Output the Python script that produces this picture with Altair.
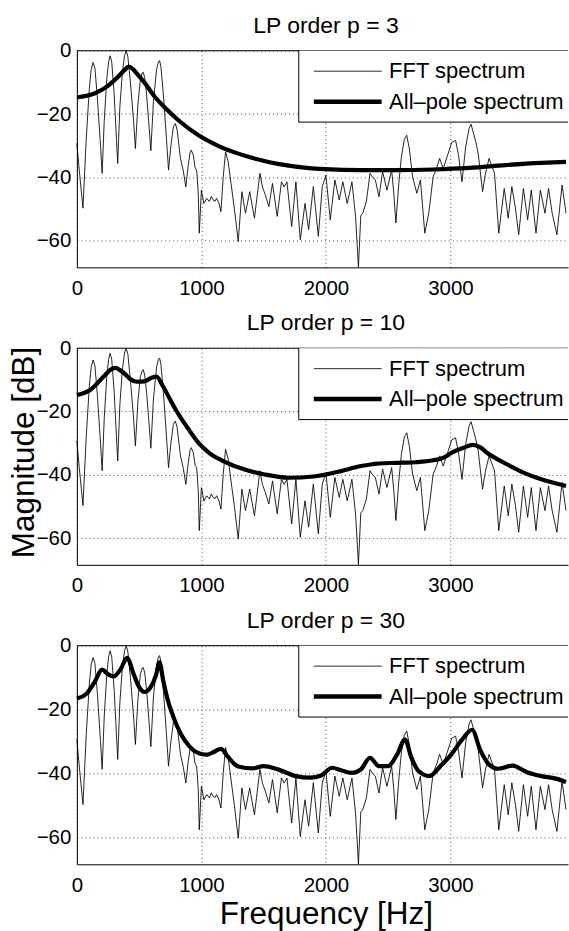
import altair as alt
import pandas as pd

FONT = "Liberation Sans"
ORDERS = [3, 10, 30]
X_TICKS = [0, 1000, 2000, 3000]
Y_TICKS = [0, -20, -40, -60]
X_MAX = 3944
Y_MIN = -68.4
LEGEND_LABELS = ["FFT spectrum", "All\u2013pole spectrum"]
XLABEL = "Frequency [Hz]"
YLABEL = "Magnitude [dB]"

FFT_FREQ = [0, 20, 49, 75, 100, 115, 130, 145, 165, 190, 203, 220, 240, 255, 267, 280, 300, 318, 328,
            345, 365, 383, 397, 410, 430, 455, 470, 490, 510, 525, 533, 545, 560, 580, 594, 615, 640,
            655, 664, 675, 695, 720, 736, 755, 775, 791, 805, 820, 832, 855, 875, 895, 910, 919, 935,
            950, 962, 975, 983, 1000, 1020, 1043, 1064, 1080, 1093, 1110, 1122, 1140, 1157, 1175, 1194,
            1215, 1238, 1265, 1296, 1325, 1354, 1388, 1426, 1470, 1490, 1513, 1542, 1571, 1609, 1643,
            1665, 1687, 1725, 1759, 1794, 1832, 1861, 1899, 1939, 1971, 2000, 2035, 2072, 2107, 2136,
            2171, 2209, 2238, 2261, 2280, 2296, 2325, 2354, 2375, 2397, 2426, 2455, 2490, 2528, 2545,
            2562, 2585, 2606, 2630, 2649, 2670, 2696, 2730, 2759, 2794, 2826, 2861, 2890, 2913, 2942,
            2977, 3010, 3041, 3065, 3093, 3122, 3150, 3165, 3185, 3205, 3223, 3258, 3280, 3310, 3354,
            3388, 3432, 3464, 3493, 3522, 3548, 3586, 3620, 3649, 3687, 3722, 3759, 3788, 3817, 3855,
            3896, 3928]
FFT_DB = [-29.3, -38, -49.7, -28, -12, -6, -3.7, -5.5, -15, -30, -38.7, -22, -9, -3.5, -1.6, -3.5, -14,
          -28, -35.6, -18, -7, -1.5, 0, -2, -10, -22, -30.9, -17, -9, -7, -6.8, -8.5, -14, -24, -31.6,
          -16, -6, -3.5, -3.1, -5, -14, -28, -37.7, -30, -24, -23, -25, -30, -34, -38, -43, -36, -32,
          -31.4, -33, -37, -37.7, -45, -57.6, -44, -48.2, -46.6, -47.6, -46, -47.1, -47.5, -46.6, -48,
          -50.8, -40, -31.9, -35, -41.9, -50, -60.2, -44.5, -51.3, -44.5, -52.9, -38.7, -43, -45.5,
          -49.2, -41.9, -52.3, -41.4, -43, -41.4, -55.5, -41.4, -59.7, -48.2, -56.5, -42.9, -58.6,
          -42.9, -39.3, -53.4, -40.8, -47.1, -41.4, -48.2, -41.4, -52.3, -68.3, -52, -51.3, -47.6,
          -38.7, -40, -40.8, -46.1, -38.2, -44, -37.7, -45, -54.4, -42, -33.5, -28, -26.7, -31, -39.8,
          -45, -40.8, -57.6, -51.3, -39.8, -37, -34, -37.2, -33, -29, -28.3, -33, -41.4, -30.4, -24.5,
          -23.2, -26, -29, -32.5, -44.5, -39, -34, -38.7, -57.6, -43.5, -52.9, -42.9, -49.7, -58.1,
          -43.5, -53.4, -44, -57.6, -44, -51.3, -43.5, -51.3, -58.1, -42.4, -51.3]

AP3_FREQ = [0, 136, 252, 339, 380, 417, 450, 484, 542, 629, 716, 832, 977, 1122, 1267, 1412, 1557,
            1701, 1846, 1991, 2281, 2571, 2861, 3151, 3441, 3730, 3928]
AP3_DB = [-14.7, -13.6, -11, -7.9, -6.2, -5.0, -5.8, -7.3, -10, -14.7, -18.3, -22.5, -26.7, -29.8,
          -32.1, -33.9, -35.3, -36.3, -37, -37.4, -37.7, -37.7, -37.5, -37, -36.1, -35.4, -35.1]

AP10_FREQ = [0, 107, 223, 270, 310, 350, 383, 430, 480, 540, 600, 640, 687, 745, 803, 890, 977, 1064,
             1180, 1354, 1500, 1700, 1900, 2100, 2281, 2426, 2571, 2716, 2861, 2950, 3006, 3100, 3180,
             3240, 3296, 3441, 3586, 3730, 3928]
AP10_DB = [-14.8, -13.2, -8.6, -6.8, -6.2, -7.0, -8.0, -9.8, -10.6, -10.5, -9.3, -9.0, -11.7, -15.9,
           -20, -25.2, -29.9, -33.1, -35.7, -38.4, -39.8, -40.9, -40.5, -39, -37.2, -36.4, -36.2,
           -36, -35.4, -34.5, -33.1, -31.5, -30.5, -31.3, -33.1, -36.4, -39.3, -41.4, -43.5]

AP30_FREQ = [0, 78, 142, 203, 252, 296, 354, 403, 455, 499, 542, 594, 635, 664, 693, 730, 774, 832,
             904, 991, 1049, 1107, 1157, 1209, 1296, 1412, 1499, 1614, 1759, 1875, 1962, 2049, 2122,
             2209, 2281, 2354, 2426, 2499, 2571, 2635, 2687, 2745, 2832, 2919, 3006, 3093, 3174, 3238,
             3310, 3383, 3499, 3615, 3730, 3846, 3928]
AP30_DB = [-16.5, -15, -11.4, -7.5, -9, -9.6, -7.2, -3.8, -8.8, -12.9, -14.5, -12.9, -9.3, -5.2,
           -10.8, -17, -22.2, -27.4, -31.5, -33.8, -34.1, -33.1, -32.3, -34.6, -37.8, -38.4, -37.7,
           -38.7, -40.8, -41.3, -40.6, -38.2, -39, -39.8, -38.7, -35.1, -37.7, -37.7, -34.1, -29.4,
           -35.1, -39.3, -40.8, -37.7, -34.1, -29.4, -26.3, -32.5, -37.2, -38.5, -37.5, -39.6, -40.8,
           -41.6, -42.7]

AP_FREQS = [AP3_FREQ, AP10_FREQ, AP30_FREQ]
AP_DBS = [AP3_DB, AP10_DB, AP30_DB]

W = 492
HEIGHTS = [217, 217, 219]
ONE = pd.DataFrame({"k": [0]})
LABEL_EXPR = "datum.value < 0 ? '\u2212' + format(-datum.value, 'd') : format(datum.value, 'd')"


def panel(idx):
    order = ORDERS[idx]
    h = HEIGHTS[idx]
    fft = pd.DataFrame({"freq": FFT_FREQ, "db": FFT_DB})
    ap = pd.DataFrame({"freq": AP_FREQS[idx], "db": AP_DBS[idx]})

    xkw = dict(values=X_TICKS, format="d", grid=True, gridColor="black", gridDash=[1, 3],
               gridWidth=0.8, gridOpacity=0.85, domainColor="black", domainWidth=1,
               ticks=False, tickSize=0, labelFont=FONT, labelFontSize=20.5, labelColor="black",
               labelPadding=11, labelFlush=False, labelOverlap=False)
    if idx == 2:
        xkw.update(title=XLABEL, titleFont=FONT, titleFontSize=31.5, titleFontWeight="normal",
                   titleColor="black", titleX=249.5, titleY=59, titleAlign="center",
                   titleBaseline="alphabetic")
    else:
        xkw.update(title=None)
    ykw = dict(values=Y_TICKS, labelExpr=LABEL_EXPR, grid=True, gridColor="black", gridDash=[1, 3],
               gridWidth=0.8, gridOpacity=0.85, domainColor="black", domainWidth=1,
               ticks=False, tickSize=0, labelFont=FONT, labelFontSize=20.5, labelColor="black",
               labelPadding=6, labelFlush=False, labelOverlap=False)
    if idx == 1:
        ykw.update(title=YLABEL, titleFont=FONT, titleFontSize=31.5, titleFontWeight="normal",
                   titleColor="black", titleX=-43, titleY=104, titleAngle=270,
                   titleAlign="center", titleBaseline="alphabetic")
    else:
        ykw.update(title=None)

    X = alt.X("freq:Q", scale=alt.Scale(domain=[0, X_MAX], nice=False, zero=False),
              axis=alt.Axis(**xkw))
    Y = alt.Y("db:Q", scale=alt.Scale(domain=[Y_MIN, 0], nice=False, zero=False),
              axis=alt.Axis(**ykw))

    fft_line = alt.Chart(fft).mark_line(color="black", strokeWidth=0.85).encode(x=X, y=Y)
    ap_line = alt.Chart(ap).mark_line(color="black", strokeWidth=4.2, strokeJoin="round",
                                      interpolate="monotone").encode(x=X, y=Y)

    top_border = alt.Chart(ONE).mark_rule(color="black", strokeWidth=1).encode(
        x=alt.value(0), x2=alt.value(W), y=alt.value(0))

    bx, by2 = 222.3, 71.5
    leg_bg = alt.Chart(ONE).mark_rect(fill="white").encode(
        x=alt.value(bx), x2=alt.value(W), y=alt.value(0), y2=alt.value(by2))
    leg_left = alt.Chart(ONE).mark_rule(color="black", strokeWidth=1).encode(
        x=alt.value(bx), y=alt.value(0), y2=alt.value(by2))
    leg_bottom = alt.Chart(ONE).mark_rule(color="black", strokeWidth=1).encode(
        x=alt.value(bx), x2=alt.value(W), y=alt.value(by2))
    leg_thin = alt.Chart(ONE).mark_rule(color="black", strokeWidth=0.85).encode(
        x=alt.value(237.4), x2=alt.value(305.3), y=alt.value(20.5))
    leg_thick = alt.Chart(ONE).mark_rule(color="black", strokeWidth=4.5).encode(
        x=alt.value(237.4), x2=alt.value(305.3), y=alt.value(51))
    t1 = alt.Chart(pd.DataFrame({"label": [LEGEND_LABELS[0]]})).mark_text(
        align="left", baseline="middle", font=FONT, fontSize=22, color="black",
        limit=W - 313.8, ellipsis="").encode(x=alt.value(312.8), y=alt.value(20.5), text="label:N")
    t2 = alt.Chart(pd.DataFrame({"label": [LEGEND_LABELS[1]]})).mark_text(
        align="left", baseline="middle", font=FONT, fontSize=22, color="black",
        limit=W - 313.8, ellipsis="").encode(x=alt.value(312.8), y=alt.value(51), text="label:N")

    title = alt.Chart(pd.DataFrame({"label": [f"LP order p = {order}"]})).mark_text(
        align="center", baseline="alphabetic", font=FONT, fontSize=23, color="black").encode(
        x=alt.value(249.5), y=alt.value(-18), text="label:N")

    layers = [fft_line, ap_line, top_border, leg_bg, leg_left, leg_bottom, leg_thin, leg_thick,
              t1, t2, title]
    if idx == 0:
        corner = alt.Chart(ONE).mark_rule(opacity=0, strokeWidth=0).encode(
            x=alt.value(-77), x2=alt.value(-77), y=alt.value(-50), y2=alt.value(-50))
        layers.append(corner)

    return alt.layer(*layers).properties(width=W, height=h)


chart = alt.vconcat(panel(0), panel(1), panel(2), spacing=81, bounds="flush").properties(
    padding=0, background="white"
).configure_view(stroke=None)

chart.save("out.html", embed_options={"renderer": "svg", "actions": False})
